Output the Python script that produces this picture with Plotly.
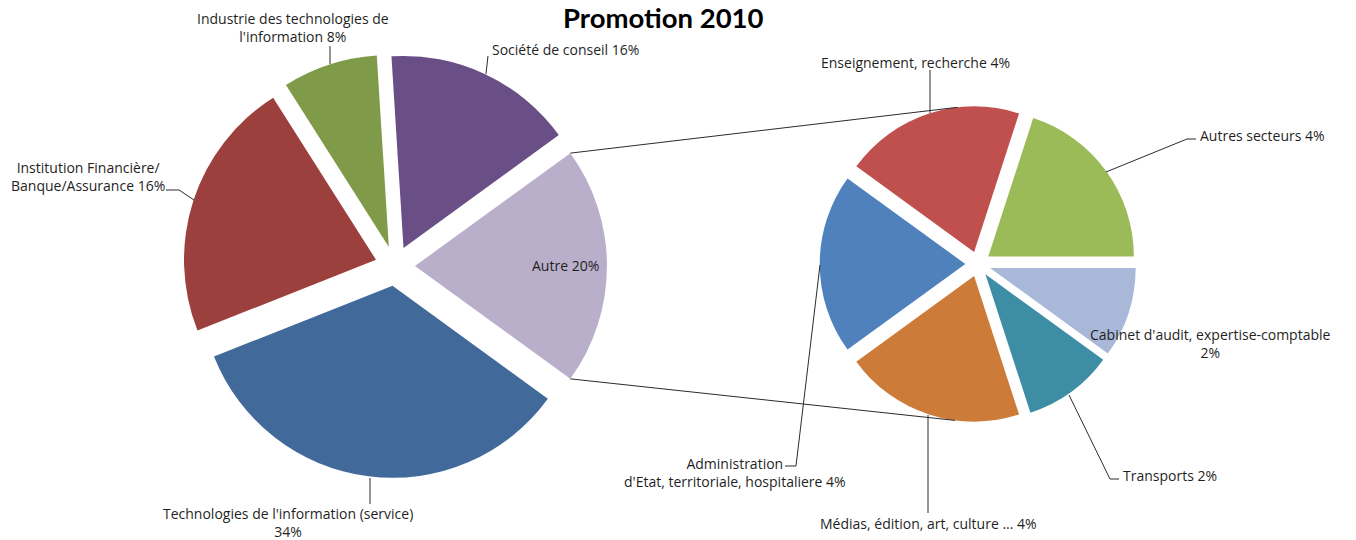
import math
import plotly.graph_objects as go

W, H = 1356, 540
FONT = "Open Sans, Calibri, Carlito, sans-serif"
TITLE_FONT = "Lato, Calibri, Carlito, sans-serif"
TEXT_COLOR = "#1F1F1F"
LINE_COLOR = "#2B2B2B"

# main pie, clockwise starting with the "Autre" slice
main_labels = [
    "Autre",
    "Technologies de l'information (service)",
    "Institution Financière/Banque/Assurance",
    "Industrie des technologies de l'information",
    "Société de conseil",
]
main_values = [20, 34, 22, 8, 16]
main_text = [
    "Autre 20%",
    "Technologies de l'information (service)<br>34%",
    "Institution Financière/<br>Banque/Assurance 16%",
    "Industrie des technologies de<br>l'information 8%",
    "Société de conseil 16%",
]
main_colors = ["#B9AFCB", "#416A9B", "#9C403E", "#7F9A48", "#6A4F86"]

# secondary pie: breakdown of "Autre"
sub_labels = [
    "Enseignement, recherche",
    "Autres secteurs",
    "Cabinet d'audit, expertise-comptable",
    "Transports",
    "Médias, édition, art, culture ...",
    "Administration d'Etat, territoriale, hospitaliere",
]
sub_values = [4, 4, 2, 2, 4, 4]
sub_text = [
    "Enseignement, recherche 4%",
    "Autres secteurs 4%",
    "Cabinet d'audit, expertise-comptable<br>2%",
    "Transports 2%",
    "Médias, édition, art, culture ... 4%",
    "Administration<br>d'Etat, territoriale, hospitaliere 4%",
]
sub_colors = ["#C0504D", "#9BBB59", "#A9B8D9", "#3D8EA4", "#CC7B38", "#4F81BD"]

# pie geometry in pixels (centre, radius, pull fraction, start angle)
MAIN = dict(cx=395, cy=266, r=192, pull=0.104, rot=54)
SUB = dict(cx=978, cy=264, r=145.6, pull=0.087, rot=-54)


def to_paper(x, y):
    return x / W, 1 - y / H


def domain(g):
    half = g["r"] * (1 + g["pull"])
    return dict(
        x=[(g["cx"] - half) / W, (g["cx"] + half) / W],
        y=[1 - (g["cy"] + half) / H, 1 - (g["cy"] - half) / H],
    )


def arc_point(g, values, idx, angle_deg):
    """point on the outer arc of (pulled) slice idx, angle clockwise from 12 o'clock"""
    total = sum(values)
    start = g["rot"] + 360 * sum(values[:idx]) / total
    mid = math.radians(start + 180 * values[idx] / total)
    ox = g["cx"] + g["pull"] * g["r"] * math.sin(mid)
    oy = g["cy"] - g["pull"] * g["r"] * math.cos(mid)
    a = math.radians(angle_deg)
    return ox + g["r"] * math.sin(a), oy - g["r"] * math.cos(a)


fig = go.Figure()

fig.add_trace(go.Pie(
    labels=main_labels,
    values=main_values,
    sort=False,
    direction="clockwise",
    rotation=MAIN["rot"],
    pull=[MAIN["pull"]] * len(main_values),
    marker=dict(colors=main_colors, line=dict(width=0)),
    textinfo="none",
    hoverinfo="label+percent",
    domain=domain(MAIN),
    showlegend=False,
))

fig.add_trace(go.Pie(
    labels=sub_labels,
    values=sub_values,
    sort=False,
    direction="clockwise",
    rotation=SUB["rot"],
    pull=[SUB["pull"]] * len(sub_values),
    marker=dict(colors=sub_colors, line=dict(width=0)),
    textinfo="none",
    hoverinfo="label+value",
    domain=domain(SUB),
    showlegend=False,
))

shapes = []


def polyline(points, color=LINE_COLOR, width=1):
    pts = [to_paper(x, y) for x, y in points]
    path = "M " + " L ".join(f"{x:.5f},{y:.5f}" for x, y in pts)
    shapes.append(dict(type="path", path=path, xref="paper", yref="paper",
                       line=dict(color=color, width=width)))


# connector lines between the "Autre" slice and the secondary pie
autre_end = MAIN["rot"] + 360 * main_values[0] / sum(main_values)
polyline([arc_point(MAIN, main_values, 0, MAIN["rot"]), arc_point(SUB, sub_values, 0, -6.5)])
polyline([arc_point(MAIN, main_values, 0, autre_end), arc_point(SUB, sub_values, 4, 187.5)])

# leader lines
polyline([(330, 46), (330, 64)])
polyline([(488, 56), (486, 74)])
polyline([(166, 190), (179, 190), (194, 200)])
polyline([(370, 478), (370, 504)])
polyline([(930, 70), (930, 113)])
polyline([(1196, 139), (1187, 139), (1106, 172)])
polyline([(1069, 395), (1110, 479), (1119, 479)])
polyline([(928, 415), (928, 513)])
polyline([(785, 466), (796, 466), (820, 265)])

# label placement (pixel x, y, anchor)
main_pos = [
    (565, 265, "center"),
    (288, 522, "center"),
    (88, 177, "center"),
    (293, 28, "center"),
    (490, 50, "left"),
]
sub_pos = [
    (915, 62, "center"),
    (1198, 136, "left"),
    (1210, 343, "center"),
    (1121, 475, "left"),
    (928, 523, "center"),
    (735, 472, "center"),
]

annotations = []
for txt, (x, y, anchor) in list(zip(main_text, main_pos)) + list(zip(sub_text, sub_pos)):
    px, py = to_paper(x, y)
    annotations.append(dict(
        text=txt, x=px, y=py, xref="paper", yref="paper",
        xanchor=anchor, yanchor="middle", align="center", showarrow=False,
        font=dict(family=FONT, size=14, color=TEXT_COLOR),
    ))

tx, ty = to_paper(663, 18)
annotations.append(dict(
    text="<b>Promotion 2010</b>", x=tx, y=ty, xref="paper", yref="paper",
    xanchor="center", yanchor="middle", showarrow=False,
    font=dict(family=TITLE_FONT, size=27.5, color="#000000"),
))

fig.update_layout(
    width=W,
    height=H,
    margin=dict(l=0, r=0, t=0, b=0),
    paper_bgcolor="white",
    plot_bgcolor="white",
    shapes=shapes,
    annotations=annotations,
    showlegend=False,
)

fig.write_html("out.html", config={"displayModeBar": False},
               post_script="document.body.style.margin='0';")
